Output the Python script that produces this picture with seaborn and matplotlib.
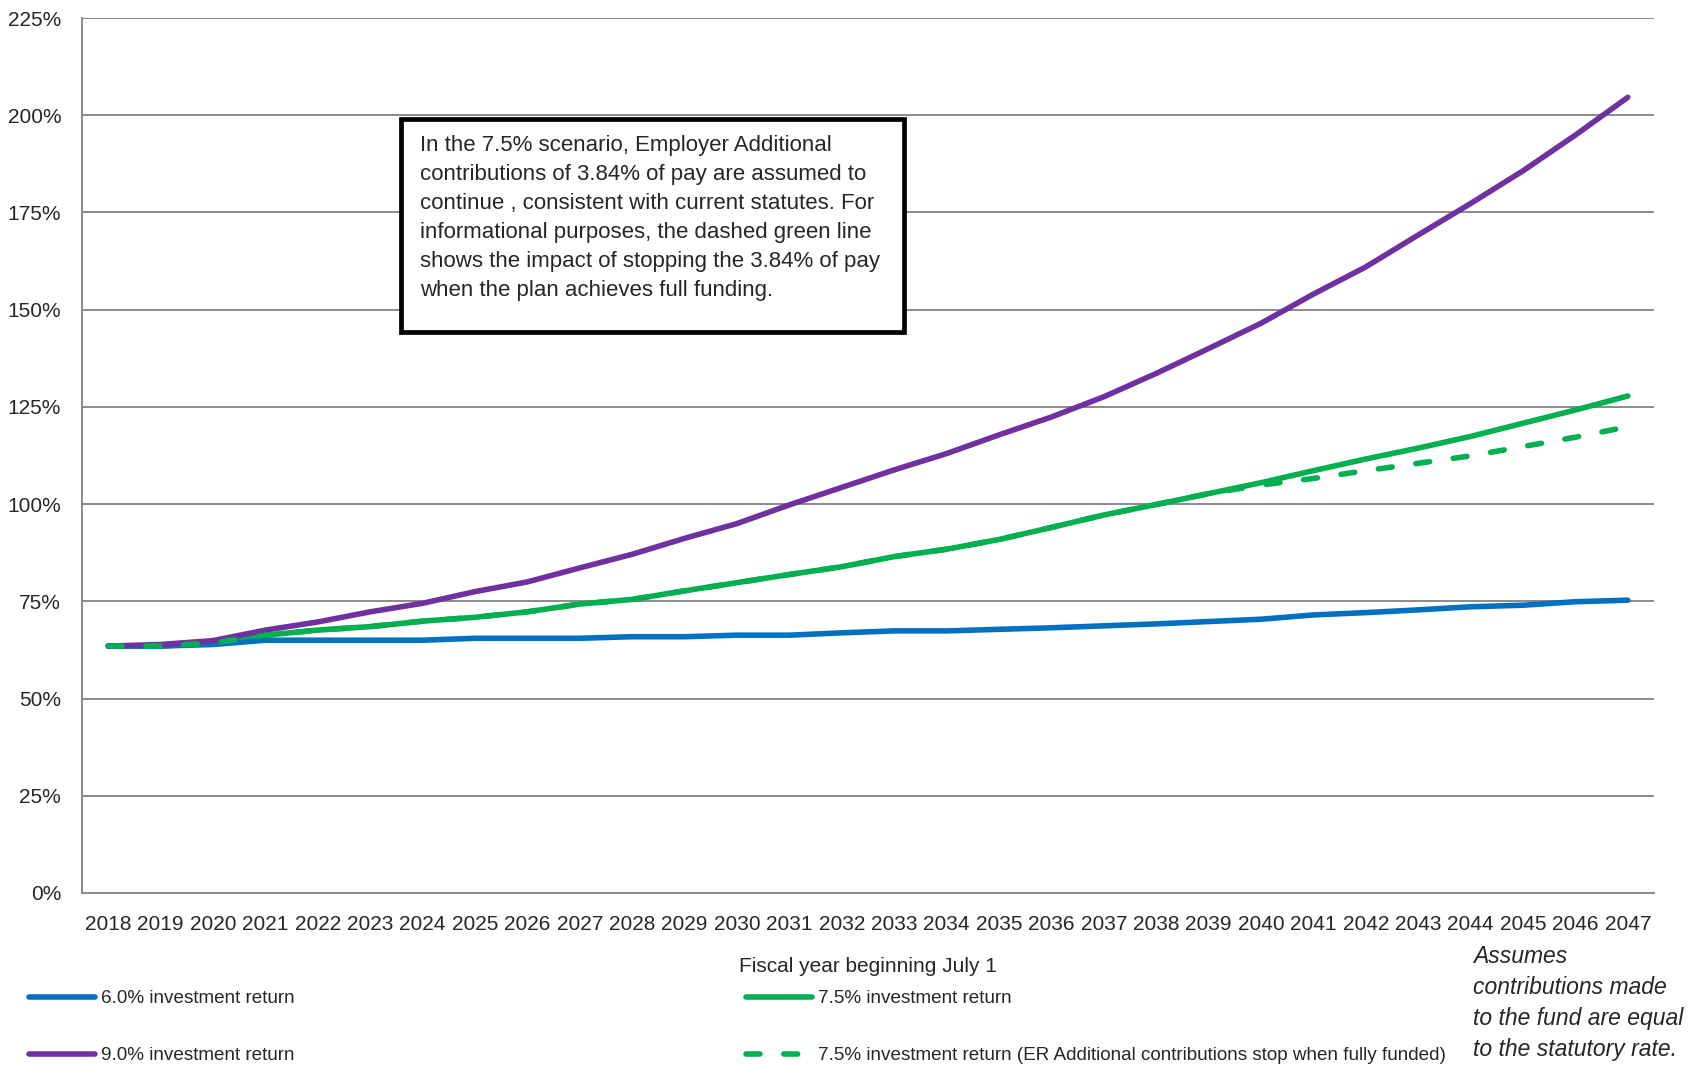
import matplotlib
matplotlib.use("Agg")
import matplotlib.pyplot as plt
from matplotlib.patches import Rectangle
from matplotlib.ticker import PercentFormatter, FixedLocator
import pandas as pd
import seaborn as sns

# funded ratio projections (percent), fiscal years 2018-2047
years = list(range(2018, 2048))
ret_60 = [63.5, 63.5, 63.9, 65.0, 65.0, 65.0, 65.0, 65.5, 65.5, 65.5,
          65.9, 65.9, 66.3, 66.3, 66.9, 67.4, 67.4, 67.8, 68.2, 68.7,
          69.2, 69.8, 70.4, 71.5, 72.1, 72.8, 73.6, 74.0, 74.9, 75.3]
ret_75 = [63.5, 63.5, 64.3, 66.3, 67.6, 68.5, 69.9, 70.9, 72.3, 74.3,
          75.5, 77.7, 79.8, 81.9, 83.9, 86.5, 88.4, 90.9, 94.0, 97.2,
          99.9, 102.7, 105.5, 108.6, 111.6, 114.4, 117.4, 120.8, 124.2, 127.8]
ret_90 = [63.5, 63.9, 64.9, 67.6, 69.7, 72.3, 74.5, 77.5, 80.0, 83.6,
          87.1, 91.2, 95.0, 99.8, 104.3, 108.8, 113.0, 117.8, 122.4, 127.6,
          133.6, 140.0, 146.5, 154.0, 161.0, 169.2, 177.3, 185.7, 194.9, 204.6]
ret_75_stop = [63.5, 63.5, 64.3, 66.3, 67.6, 68.5, 69.9, 70.9, 72.3, 74.3,
               75.5, 77.7, 79.8, 81.9, 83.9, 86.5, 88.4, 90.9, 94.0, 97.2,
               99.9, 102.7, 104.9, 106.6, 108.6, 110.5, 112.4, 114.8, 117.2, 119.9]

labels = ["6.0% investment return",
          "9.0% investment return",
          "7.5% investment return",
          "7.5% investment return (ER Additional contributions stop when fully funded)"]
colors = ["#0070C0", "#7030A0", "#00B050", "#00B050"]

df = pd.DataFrame({"Year": years, labels[0]: ret_60, labels[1]: ret_90,
                   labels[2]: ret_75, labels[3]: ret_75_stop})

sns.set_style("white")
plt.rcParams["font.family"] = ["Liberation Sans", "DejaVu Sans"]

fig = plt.figure(figsize=(16.96, 10.65), dpi=100)
ax = fig.add_axes([82 / 1696, 1 - 893 / 1065, (1654 - 82) / 1696, (893 - 18) / 1065])

lw = 4.0
order = [2, 0, 1, 3]  # draw green, blue, purple, then dashed on top
handles = {}
for i in order:
    sns.lineplot(data=df, x="Year", y=labels[i], ax=ax, color=colors[i],
                 linewidth=lw, solid_capstyle="round", dash_capstyle="round")
    line = ax.lines[-1]
    if i == 3:
        line.set_dashes((2.5, 4.3))
    handles[i] = line

ax.set_xlim(2017.5, 2047.5)
ax.set_ylim(0, 225)
ax.set_yticks(range(0, 226, 25))
ax.yaxis.set_major_formatter(PercentFormatter(xmax=100, decimals=0))
ax.set_xticks(years)
ax.set_xticklabels([str(y) for y in years])
ax.xaxis.set_minor_locator(FixedLocator([y - 0.5 for y in years] + [2047.5]))

grey = "#8a8a8a"
ax.yaxis.grid(True, color=grey, linewidth=1.4)
ax.xaxis.grid(False)
for s in ["top", "right"]:
    ax.spines[s].set_visible(False)
for s in ["left", "bottom"]:
    ax.spines[s].set_color(grey)
    ax.spines[s].set_linewidth(1.4)

ax.tick_params(axis="x", which="major", length=0, pad=16, labelsize=15)
ax.tick_params(axis="x", which="minor", length=7, width=1.4, color=grey, direction="out")
ax.tick_params(axis="y", which="major", length=5, width=1.4, color=grey,
               direction="out", pad=10, labelsize=15)

ax.set_ylabel("")
ax.set_xlabel("Fiscal year beginning July 1", fontsize=15)
ax.xaxis.set_label_coords(0.5, -(966 - 893) / 875)
ax.xaxis.label.set_va("center")

# note box
fig.add_artist(Rectangle((401 / 1696, 1 - 332 / 1065), (904 - 401) / 1696, (332 - 119) / 1065,
                         transform=fig.transFigure, facecolor="white",
                         edgecolor="black", linewidth=3.4, zorder=5))
note = ("In the 7.5% scenario, Employer Additional\n"
        "contributions of 3.84% of pay are assumed to\n"
        "continue , consistent with current statutes. For\n"
        "informational purposes, the dashed green line\n"
        "shows the impact of stopping the 3.84% of pay\n"
        "when the plan achieves full funding.")
fig.text(420 / 1696, 1 - 135 / 1065, note, fontsize=16, va="top", ha="left",
         linespacing=1.5, zorder=6)

# legends
leg_kw = dict(loc="upper left", frameon=False, fontsize=13.6, handlelength=3.5,
              handletextpad=0.3, labelspacing=2.1, borderpad=0, borderaxespad=0)
fig.legend([handles[0], handles[1]], [labels[0], labels[1]],
           bbox_to_anchor=(29 / 1696, 1 - 990 / 1065), **leg_kw)
fig.legend([handles[2], handles[3]], [labels[2], labels[3]],
           bbox_to_anchor=(746 / 1696, 1 - 990 / 1065), **leg_kw)

fig.text(1473 / 1696, 1 - 945 / 1065,
         "Assumes\ncontributions made\nto the fund are equal\nto the statutory rate.",
         fontsize=16.5, style="italic", va="top", ha="left", linespacing=1.44)

fig.savefig("out.png", dpi=100)
